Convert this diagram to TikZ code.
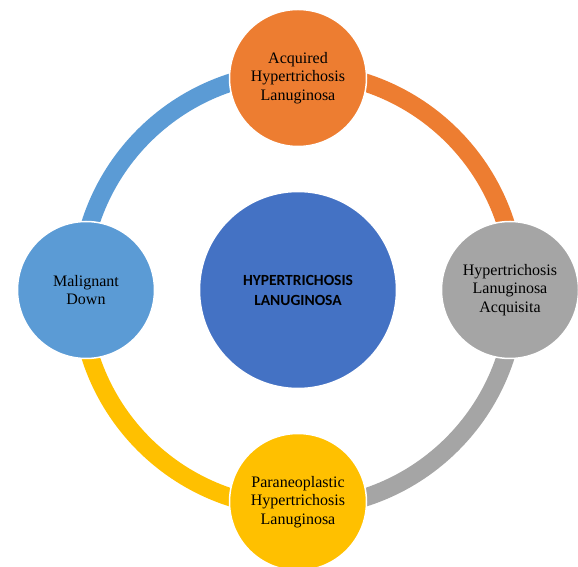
\documentclass[tikz,border=0pt]{standalone}
\usepackage{fontspec}
\setmainfont{Liberation Serif}
\newfontfamily\calibfont{Carlito}
\definecolor{cblue}{HTML}{5B9BD5}
\definecolor{corange}{HTML}{ED7D31}
\definecolor{cgray}{HTML}{A5A5A5}
\definecolor{cyellow}{HTML}{FFC000}
\definecolor{cdark}{HTML}{4472C4}
\begin{document}
\begin{tikzpicture}[x=1pt,y=1pt,
  ringarc/.style={line width=18pt},
  sat/.style={circle, minimum size=137pt, inner sep=0pt, draw=white, line width=1.5pt,
    align=center, text=black, font=\fontsize{16}{18.5}\selectfont},
  hub/.style={circle, minimum size=197pt, inner sep=0pt, draw=white, line width=1.5pt,
    fill=cdark, align=center, text=black, font=\calibfont\bfseries\fontsize{15.5}{20}\selectfont}]
\useasboundingbox (0,0) rectangle (578,567);
\coordinate (O) at (298,277);
% ring arcs
\draw[ringarc, cblue]   (O) ++(180:218) arc (180:90:218);
\draw[ringarc, corange] (O) ++(90:218) arc (90:0:218);
\draw[ringarc, cgray]   (O) ++(0:218) arc (360:270:218);
\draw[ringarc, cyellow] (O) ++(270:218) arc (270:180:218);
% satellites
\node[sat, fill=corange] (top) at (298,489) {Acquired\\Hypertrichosis\\Lanuginosa};
\node[sat, fill=cgray] (right) at (510,277) {Hypertrichosis\\Lanuginosa\\Acquisita};
\node[sat, fill=cyellow] (bottom) at (298,65) {Paraneoplastic\\Hypertrichosis\\Lanuginosa};
\node[sat, fill=cblue] (left) at (86,277) {Malignant\\Down};
% hub
\node[hub] (center) at (O) {HYPERTRICHOSIS\\LANUGINOSA};
\end{tikzpicture}
\end{document}
